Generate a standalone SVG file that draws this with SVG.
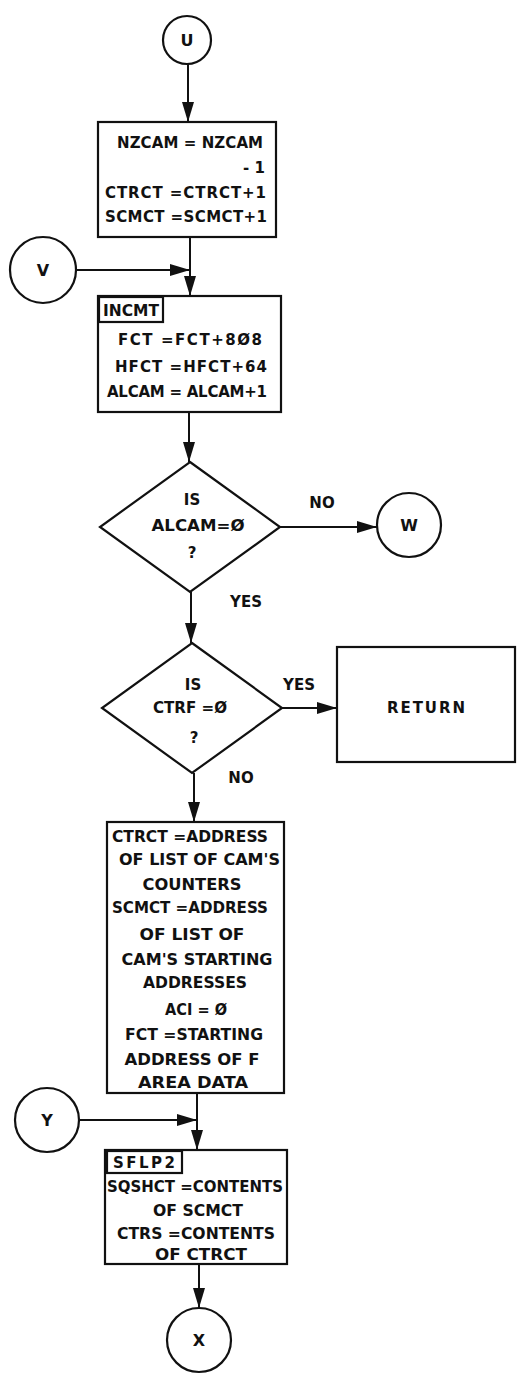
<svg xmlns="http://www.w3.org/2000/svg" width="517" height="1375" viewBox="0 0 517 1375">
<defs>
<marker id="ah" markerWidth="20" markerHeight="12" refX="20" refY="6" orient="auto" markerUnits="userSpaceOnUse"><path d="M0,0 L20,6 L0,12 z" fill="#111"/></marker>
<style>
.s{fill:#fff;stroke:#111;stroke-width:2.2}
.c{fill:none;stroke:#111;stroke-width:2}
text{font-family:"DejaVu Sans","Liberation Sans",Arial,sans-serif;font-weight:bold;fill:#111;font-size:15px}
.m{text-anchor:middle}
.k{font-size:16px}
</style>
</defs>
<rect width="517" height="1375" fill="#fff"/>
<g id="connectors">
<path class="c" d="M188,64 L188,122" marker-end="url(#ah)"/>
<path class="c" d="M190,237 L190,296" marker-end="url(#ah)"/>
<path class="c" d="M76,270 L190,270" marker-end="url(#ah)"/>
<path class="c" d="M189,412 L189,462" marker-end="url(#ah)"/>
<path class="c" d="M280,527 L377,527" marker-end="url(#ah)"/>
<path class="c" d="M191,592 L191,643" marker-end="url(#ah)"/>
<path class="c" d="M282,708 L337,708" marker-end="url(#ah)"/>
<path class="c" d="M194,773 L194,822" marker-end="url(#ah)"/>
<path class="c" d="M197,1093 L197,1150" marker-end="url(#ah)"/>
<path class="c" d="M79,1120 L197,1120" marker-end="url(#ah)"/>
<path class="c" d="M199,1264 L199,1308" marker-end="url(#ah)"/>
<text x="322" y="508" class="m">NO</text>
<text x="246" y="607" class="m">YES</text>
<text x="299" y="690" class="m">YES</text>
<text x="241" y="783" class="m">NO</text>
</g>
<g id="U"><circle class="s" cx="187" cy="40" r="24"/><text x="187" y="46" class="m k">U</text></g>
<g id="box1">
<rect class="s" x="98" y="122" width="178" height="115"/>
<text x="190" y="148" class="m" textLength="146" lengthAdjust="spacing">NZCAM = NZCAM</text>
<text x="265" y="173" text-anchor="end">- 1</text>
<text x="105" y="198" textLength="161" lengthAdjust="spacing">CTRCT =CTRCT+1</text>
<text x="105" y="222" textLength="162" lengthAdjust="spacing">SCMCT =SCMCT+1</text>
</g>
<g id="V"><circle class="s" cx="43" cy="270" r="33"/><text x="43" y="276" class="m k">V</text></g>
<g id="INCMT">
<rect class="s" x="98" y="296" width="183" height="116"/>
<rect class="s" x="99" y="297" width="64" height="25"/>
<text x="131" y="316" class="m" textLength="56" lengthAdjust="spacingAndGlyphs">INCMT</text>
<text x="190" y="345" class="m" textLength="144" lengthAdjust="spacing">FCT =FCT+8Ø8</text>
<text x="191" y="372" class="m" textLength="152" lengthAdjust="spacing">HFCT =HFCT+64</text>
<text x="187" y="397" class="m" textLength="160" lengthAdjust="spacing">ALCAM = ALCAM+1</text>
</g>
<g id="D1">
<path class="s" d="M190,462 L280,527 L190,592 L100,527 Z"/>
<text x="192" y="505" class="m">IS</text>
<text x="198" y="531" class="m" textLength="93" lengthAdjust="spacingAndGlyphs">ALCAM=Ø</text>
<text x="192" y="558" class="m">?</text>
</g>
<g id="W"><circle class="s" cx="409" cy="525" r="32"/><text x="409" y="531" class="m k">W</text></g>
<g id="D2">
<path class="s" d="M192,643 L282,708 L192,773 L102,708 Z"/>
<text x="193" y="690" class="m">IS</text>
<text x="190" y="713" class="m" textLength="74" lengthAdjust="spacingAndGlyphs">CTRF =Ø</text>
<text x="194" y="743" class="m">?</text>
</g>
<g id="RETURN">
<rect class="s" x="337" y="647" width="178" height="115"/>
<text x="426" y="713" class="m" textLength="78" lengthAdjust="spacing">RETURN</text>
</g>
<g id="bigbox">
<rect class="s" x="107" y="822" width="177" height="271"/>
<text x="112" y="842" textLength="156" lengthAdjust="spacingAndGlyphs">CTRCT =ADDRESS</text>
<text x="119" y="865" textLength="161" lengthAdjust="spacingAndGlyphs">OF LIST OF CAM'S</text>
<text x="192" y="890" class="m" textLength="99" lengthAdjust="spacingAndGlyphs">COUNTERS</text>
<text x="112" y="913" textLength="156" lengthAdjust="spacingAndGlyphs">SCMCT =ADDRESS</text>
<text x="192" y="940" class="m" textLength="105" lengthAdjust="spacingAndGlyphs">OF LIST OF</text>
<text x="197" y="965" class="m" textLength="151" lengthAdjust="spacingAndGlyphs">CAM'S STARTING</text>
<text x="195" y="988" class="m" textLength="104" lengthAdjust="spacingAndGlyphs">ADDRESSES</text>
<text x="196" y="1015" class="m" textLength="62" lengthAdjust="spacingAndGlyphs">ACI = Ø</text>
<text x="194" y="1040" class="m" textLength="138" lengthAdjust="spacingAndGlyphs">FCT =STARTING</text>
<text x="192" y="1065" class="m" textLength="135" lengthAdjust="spacingAndGlyphs">ADDRESS OF F</text>
<text x="193" y="1088" class="m" textLength="110" lengthAdjust="spacingAndGlyphs">AREA DATA</text>
</g>
<g id="Y"><circle class="s" cx="47" cy="1120" r="32"/><text x="47" y="1126" class="m k">Y</text></g>
<g id="SFLP2">
<rect class="s" x="105" y="1150" width="182" height="114"/>
<rect class="s" x="107" y="1151" width="75" height="22"/>
<text x="144" y="1168" class="m" textLength="62" lengthAdjust="spacing">SFLP2</text>
<text x="107" y="1192" textLength="176" lengthAdjust="spacingAndGlyphs">SQSHCT =CONTENTS</text>
<text x="198" y="1216" class="m" textLength="90" lengthAdjust="spacingAndGlyphs">OF SCMCT</text>
<text x="196" y="1239" class="m" textLength="158" lengthAdjust="spacingAndGlyphs">CTRS =CONTENTS</text>
<text x="201" y="1260" class="m" textLength="92" lengthAdjust="spacingAndGlyphs">OF CTRCT</text>
</g>
<g id="X"><circle class="s" cx="199" cy="1340" r="32"/><text x="199" y="1346" class="m k">X</text></g>
</svg>
